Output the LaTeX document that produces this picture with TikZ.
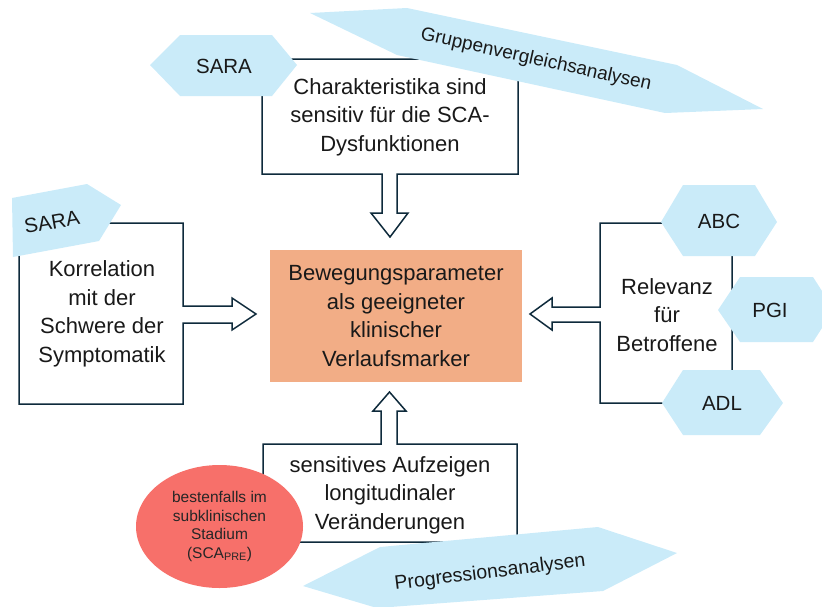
\documentclass[tikz,border=0pt]{standalone}
\usepackage{fontspec}
\setmainfont{Liberation Sans}
\usetikzlibrary{shapes.geometric, positioning}
\definecolor{rim}{HTML}{0E2A3B}
\definecolor{skyfill}{HTML}{CAEBF9}
\definecolor{peach}{HTML}{F2AD86}
\definecolor{coral}{HTML}{F7706A}
\tikzset{
  callout/.style={draw=rim, line width=1.5pt, fill=white},
  tag/.style={fill=skyfill},
  txt/.style={align=center, text=black!90, font=\fontsize{22}{28.5}\selectfont},
  tagtxt/.style={text=black!90, font=\fontsize{20.5}{24}\selectfont},
}
\begin{document}
\begin{tikzpicture}[x=1pt,y=-1pt]
\useasboundingbox (0,0) rectangle (822,606);
% callouts with block arrows
\draw[callout] (262,59) -- (518,59) -- (518,174) -- (397,174) -- (397,213) -- (408,213) -- (390,237) -- (371,213) -- (382,213) -- (382,174) -- (262,174) -- cycle;
\draw[callout] (19,223) -- (183,223) -- (183,306) -- (232,306) -- (232,298) -- (256,314) -- (232,330) -- (232,323) -- (183,323) -- (183,404) -- (19,404) -- cycle;
\draw[callout] (600,223) -- (732,223) -- (732,403) -- (600,403) -- (600,322) -- (552,322) -- (552,330) -- (530,314) -- (552,298) -- (552,307) -- (600,307) -- cycle;
\draw[callout] (263,444) -- (381,444) -- (381,411) -- (373,411) -- (389.5,392) -- (406,411) -- (397,411) -- (397,444) -- (517,444) -- (517,542) -- (263,542) -- cycle;
% centre
\node[fill=peach, minimum width=252pt, minimum height=132pt, txt] (marker) at (396,316) {Bewegungsparameter\\als geeigneter\\klinischer\\Verlaufsmarker};
\node[txt] (sensitiv) at (390,117) {Charakteristika sind\\sensitiv für die SCA-\\Dysfunktionen};
\node[txt] (korrelation) at (102,314) {Korrelation\\mit der\\Schwere der\\Symptomatik};
\node[txt] (relevanz) at (667,315) {Relevanz\\für\\Betroffene};
\node[txt] (longitudinal) at (390,495) {sensitives Aufzeigen\\longitudinaler\\Veränderungen};
% tags
\fill[tag] (150,65) -- (180,35) -- (272,35) -- (297,65) -- (272,96) -- (180,96) -- cycle;
\node[tagtxt] (saratop) at (224,66) {SARA};
\fill[tag] (12,198) -- (87,184) -- (121,205) -- (99,241) -- (13,257) -- cycle;
\node[tagtxt, rotate=10] (saraleft) at (52,222) {SARA};
\fill[tag] (310,13) -- (407,8) -- (677,65) -- (763,109) -- (665,113) -- (397,55) -- cycle;
\node[tagtxt, font=\fontsize{19}{22}\selectfont, rotate=-12.5] (gruppen) at (536,60) {Gruppenvergleichsanalysen};
\fill[tag] (661,222) -- (683,185) -- (755,185) -- (777,222) -- (755,256) -- (683,256) -- cycle;
\node[tagtxt] (abc) at (719,221) {ABC};
\fill[tag] (718,310) -- (740,277) -- (813,277) -- (822,291) -- (822,328) -- (813,342) -- (740,342) -- cycle;
\node[tagtxt] (pgi) at (770,310) {PGI};
\fill[tag] (662,403) -- (683,370) -- (760,370) -- (783,403) -- (760,435) -- (683,435) -- cycle;
\node[tagtxt] (adl) at (722,403) {ADL};
% stage
\node[ellipse, fill=coral, minimum width=167pt, minimum height=123pt, inner sep=0pt, align=center, text=black!85, font=\fontsize{15.5}{18.5}\selectfont] (stadium) at (219.5,526.5) {bestenfalls im\\subklinischen\\Stadium\\(SCA\textsubscript{PRE})};
\fill[tag] (303,586) -- (380,547) -- (598,527) -- (677,553) -- (603,591) -- (377,608) -- cycle;
\node[tagtxt, font=\fontsize{19.5}{22}\selectfont, rotate=7] (progression) at (490,573) {Progressionsanalysen};
\end{tikzpicture}
\end{document}
